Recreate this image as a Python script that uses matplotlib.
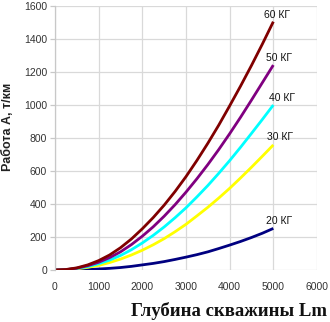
import matplotlib
matplotlib.use("Agg")
import matplotlib.pyplot as plt

# глубина скважины, м
depth = [0, 250, 500, 750, 1000, 1250, 1500, 1750, 2000, 2250, 2500,
         2750, 3000, 3250, 3500, 3750, 4000, 4250, 4500, 4750, 5000]

# работа А, т/км для разных масс
work_20 = [0, 0, 1, 3, 6, 10, 15, 22, 31, 40, 51,
           64, 78, 93, 110, 130, 151, 173, 197, 223, 252]
work_30 = [0, 2, 7, 16, 28, 45, 66, 91, 120, 153, 190,
           232, 277, 328, 380, 436, 495, 558, 623, 690, 758]
work_40 = [0, 2, 9, 21, 38, 60, 88, 123, 164, 210, 261,
           317, 377, 443, 512, 586, 663, 744, 828, 913, 1000]
work_50 = [0, 2, 11, 26, 47, 75, 110, 154, 205, 262, 326,
           396, 472, 553, 639, 730, 826, 926, 1030, 1136, 1242]
work_60 = [0, 3, 13, 31, 57, 91, 135, 188, 250, 318, 393,
           476, 566, 664, 768, 878, 995, 1115, 1240, 1370, 1505]

series = [
    ("20 КГ", work_20, "#000080", (5140, 297)),
    ("30 КГ", work_30, "#ffff00", (5160, 806)),
    ("40 КГ", work_40, "#00ffff", (5190, 1042)),
    ("50 КГ", work_50, "#800080", (5140, 1285)),
    ("60 КГ", work_60, "#800000", (5090, 1545)),
]

x_ticks = [0, 1000, 2000, 3000, 4000, 5000, 6000]
y_ticks = [0, 200, 400, 600, 800, 1000, 1200, 1400, 1600]

plt.rcParams['font.family'] = ['Liberation Sans', 'DejaVu Sans']

fig = plt.figure(figsize=(3.30, 3.22), dpi=100)
ax = fig.add_axes([55 / 330, 52 / 322, 262 / 330, 264 / 322])

for label, vals, color, pos in series:
    ax.plot(depth, vals, color=color, lw=2.0, solid_capstyle='butt',
            solid_joinstyle='round')
    ax.text(pos[0], pos[1], label, fontsize=7.5, color='#111111',
            ha='center', va='center')

ax.set_xlim(0, 6000)
ax.set_ylim(0, 1600)
ax.set_xticks(x_ticks)
ax.set_yticks(y_ticks)
ax.grid(True, color='#d9d9d9', lw=0.9)
ax.set_axisbelow(True)

for side in ['top', 'right', 'bottom']:
    ax.spines[side].set_visible(False)
ax.spines['left'].set_color('#c8c8c8')
ax.spines['left'].set_linewidth(0.9)

ax.tick_params(axis='x', length=0, pad=9, labelsize=7.5, labelcolor='#333333')
ax.tick_params(axis='y', length=3.6, width=0.9, color='#c8c8c8', pad=2,
               labelsize=7.5, labelcolor='#333333')

fig.text(8 / 330, 1 - 127 / 322, "Работа А, т/км", rotation=90,
         fontsize=9, fontweight='bold', color='#222222',
         ha='center', va='center')
fig.text(229 / 330, 1 - 316 / 322, "Глубина скважины Lm",
         family=['Liberation Serif', 'DejaVu Serif'], fontsize=13.5,
         fontweight='bold', color='#111111', ha='center', va='baseline')

fig.savefig("out.png", dpi=100)
